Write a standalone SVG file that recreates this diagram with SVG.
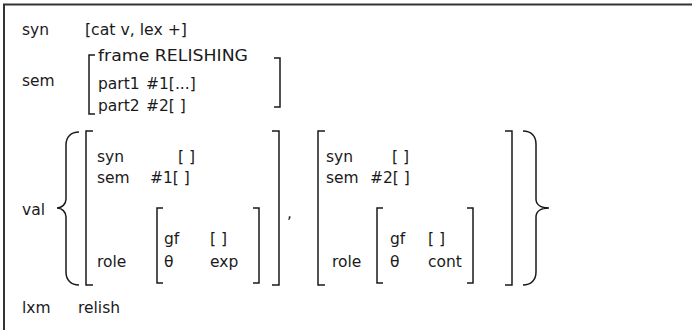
<svg xmlns="http://www.w3.org/2000/svg" width="692" height="330" viewBox="0 0 692 330">
  <style>
    text { font-family: "DejaVu Sans", "Liberation Sans", sans-serif; font-size: 15.5px; fill: #1a1a1a; }
    .br { fill: none; stroke: #1a1a1a; stroke-width: 1.5; stroke-linecap: butt; stroke-linejoin: miter; }
    .frame { fill: none; stroke: #333; stroke-width: 2; }
  </style>
  <rect width="692" height="330" fill="#fff"/>
  <!-- frame edges (top and left) -->
  <path class="frame" d="M4,330 V4.5 H692"/>

  <!-- syn feature -->
  <g id="syn">
    <text x="22" y="35">syn</text>
    <text x="85" y="35" textLength="102" lengthAdjust="spacingAndGlyphs">[cat v, lex +]</text>
  </g>

  <!-- sem feature with its bracketed value -->
  <g id="sem">
    <text x="22" y="86">sem</text>
    <path class="br" d="M95,55 H89 V114 H95"/>
    <path class="br" d="M274,58 H280 V107 H274"/>
    <text x="98" y="61" textLength="150" lengthAdjust="spacingAndGlyphs">frame RELISHING</text>
    <text x="98" y="89">part1</text>
    <text x="146" y="89">#1[...]</text>
    <text x="98" y="111">part2</text>
    <text x="146" y="111">#2[ ]</text>
  </g>

  <!-- val feature: set of two argument structures -->
  <g id="val">
    <text x="22" y="215">val</text>
    <path class="br" d="M79,132 C71,132 66,137 66,145 L66,199 C66,204 62,208 57,208 C62,208 66,212 66,217 L66,272 C66,280 71,285 79,285"/>
    <path class="br" d="M523,131 C531,131 536,136 536,144 L536,199 C536,204 540,208 549,208 C540,208 536,212 536,217 L536,272 C536,280 531,285 523,285"/>
    <text x="287" y="218">,</text>
  </g>

  <g id="arg1">
    <path class="br" d="M93,131 H86 V285 H93"/>
    <path class="br" d="M272,131 H279 V285 H272"/>
    <text x="97" y="162">syn</text>
    <text x="178" y="162">[ ]</text>
    <text x="97" y="183">sem</text>
    <text x="150" y="183">#1[ ]</text>
    <text x="97" y="267">role</text>
    <path class="br" d="M163,208 H157 V283 H163"/>
    <path class="br" d="M253,208 H259 V283 H253"/>
    <text x="164" y="244">gf</text>
    <text x="210" y="244">[ ]</text>
    <text x="164" y="267">θ</text>
    <text x="210" y="267">exp</text>
  </g>

  <g id="arg2">
    <path class="br" d="M325,131 H318 V285 H325"/>
    <path class="br" d="M505,131 H512 V285 H505"/>
    <text x="326" y="162">syn</text>
    <text x="392" y="162">[ ]</text>
    <text x="326" y="183">sem</text>
    <text x="370" y="183">#2[ ]</text>
    <text x="332" y="267">role</text>
    <path class="br" d="M383,208 H377 V283 H383"/>
    <path class="br" d="M467,208 H473 V283 H467"/>
    <text x="390" y="244">gf</text>
    <text x="428" y="244">[ ]</text>
    <text x="390" y="267">θ</text>
    <text x="428" y="267">cont</text>
  </g>

  <!-- lxm feature -->
  <g id="lxm">
    <text x="22" y="313">lxm</text>
    <text x="78" y="313">relish</text>
  </g>
</svg>
